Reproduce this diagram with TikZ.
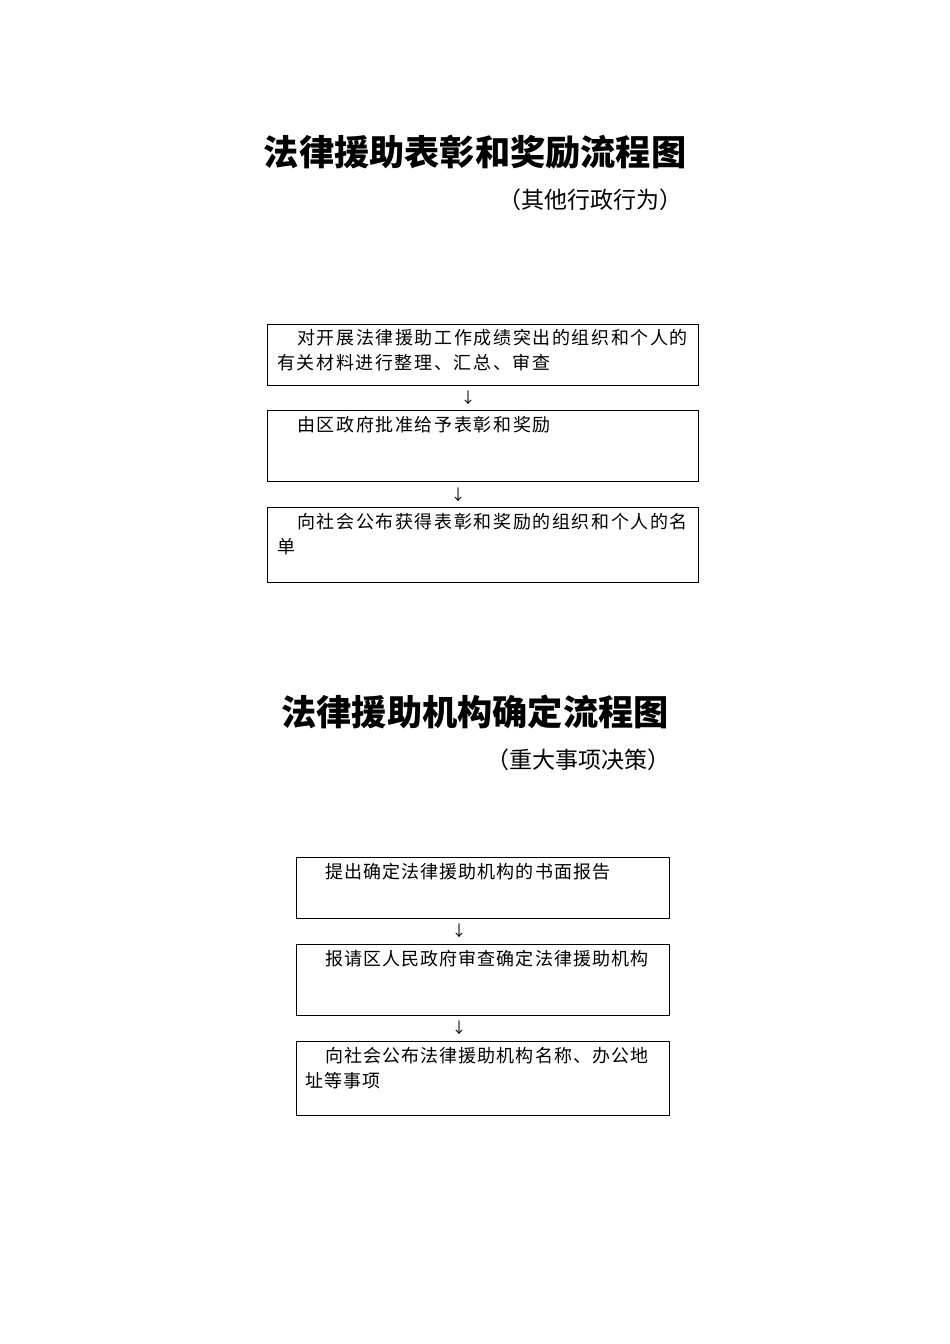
\documentclass[tikz,border=0pt]{standalone}
\usepackage{fontspec}
\newfontfamily\cjk{Noto Sans CJK SC}
\newfontfamily\cjkwide{Noto Sans CJK SC}[LetterSpace=9]
\newfontfamily\cjknarrow{Noto Sans CJK SC}[LetterSpace=6]
\begin{document}
\begin{tikzpicture}[x=1pt,y=-1pt,
  titletext/.style={font=\cjk\bfseries\fontsize{35.2}{35.2}\selectfont, inner sep=0pt},
  subtext/.style={font=\cjk\fontsize{23}{23}\selectfont, inner sep=0pt},
  widetext/.style={font=\cjkwide\fontsize{18}{18}\selectfont, inner sep=0pt, anchor=west},
  narrowtext/.style={font=\cjknarrow\fontsize{18}{18}\selectfont, inner sep=0pt, anchor=west},
  arrowglyph/.style={font=\cjk\fontsize{15}{15}\selectfont, inner sep=0pt},
  flowbox/.style={draw=black, line width=0.8pt, inner sep=0pt}
]
\useasboundingbox[fill=white] (0,0) rectangle (950,1344);

% ---------- first chart ----------
\node[titletext] (t1) at (475,152) {法律援助表彰和奖励流程图};
\node[subtext] (s1) at (590,200) {（其他行政行为）};

\node[flowbox, minimum width=431pt, minimum height=61pt] (b1) at (482.5,354.5) {};
\node[widetext] (b1l1) at (297,338) {对开展法律援助工作成绩突出的组织和个人的};
\node[widetext] (b1l2) at (277,363) {有关材料进行整理、汇总、审查};

\node[arrowglyph] (a1) at (468,398) {↓};

\node[flowbox, minimum width=431pt, minimum height=71pt] (b2) at (482.5,445.5) {};
\node[widetext] (b2l1) at (297,425) {由区政府批准给予表彰和奖励};

\node[arrowglyph] (a2) at (458,495) {↓};

\node[flowbox, minimum width=431pt, minimum height=75pt] (b3) at (482.5,544.5) {};
\node[widetext] (b3l1) at (297,522) {向社会公布获得表彰和奖励的组织和个人的名};
\node[widetext] (b3l2) at (277,547) {单};

% ---------- second chart ----------
\node[titletext] (t2) at (475,712) {法律援助机构确定流程图};
\node[subtext] (s2) at (578,760) {（重大事项决策）};

\node[flowbox, minimum width=373pt, minimum height=61pt] (b4) at (482.5,887.5) {};
\node[narrowtext] (b4l1) at (325,872) {提出确定法律援助机构的书面报告};

\node[arrowglyph] (a3) at (459,931) {↓};

\node[flowbox, minimum width=373pt, minimum height=71pt] (b5) at (482.5,979.5) {};
\node[narrowtext] (b5l1) at (325,959) {报请区人民政府审查确定法律援助机构};

\node[arrowglyph] (a4) at (459,1028) {↓};

\node[flowbox, minimum width=373pt, minimum height=74pt] (b6) at (482.5,1078) {};
\node[narrowtext] (b6l1) at (325,1056) {向社会公布法律援助机构名称、办公地};
\node[narrowtext] (b6l2) at (305,1081) {址等事项};
\end{tikzpicture}
\end{document}
